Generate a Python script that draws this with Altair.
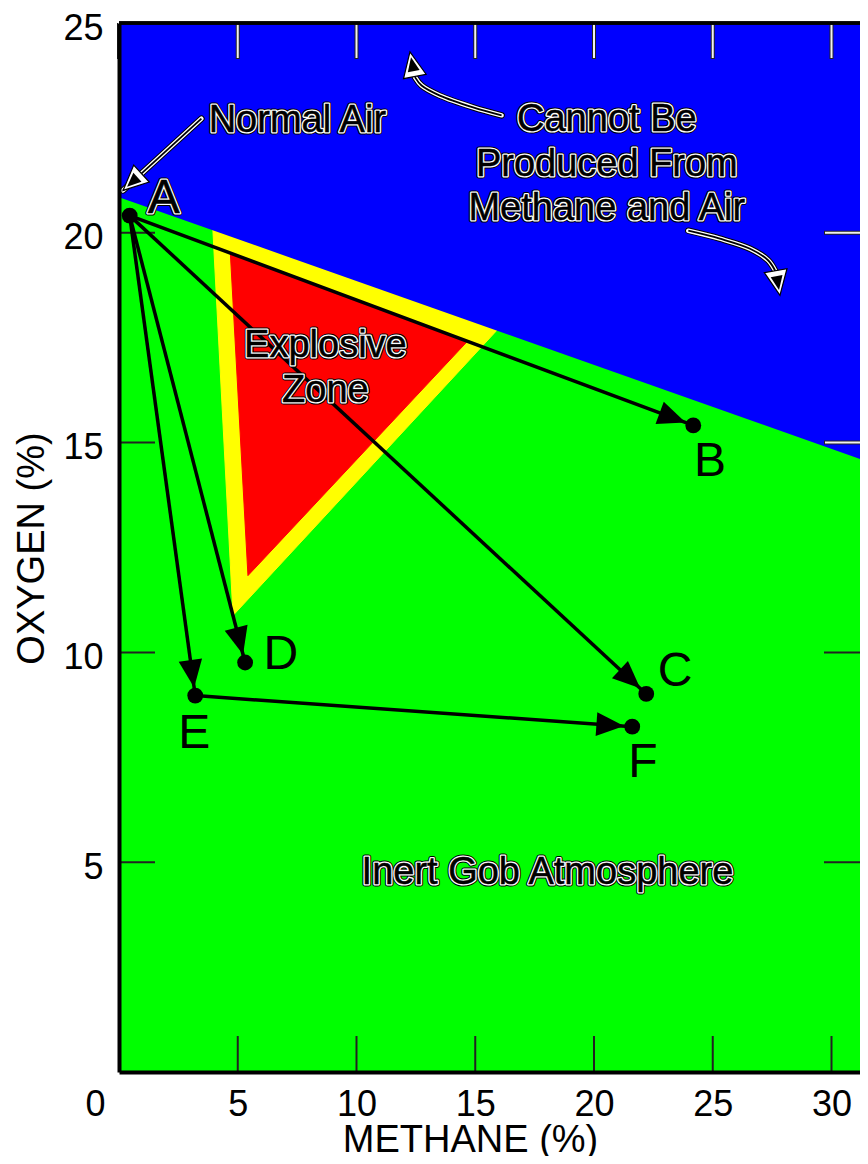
import math
import altair as alt
import pandas as pd

# ---------------- data ----------------
point_names = ["A", "B", "C", "D", "E", "F"]
point_methane = [0.45, 24.18, 22.20, 5.31, 3.21, 21.61]
point_oxygen = [20.41, 15.41, 9.01, 9.76, 8.97, 8.23]

# letter label anchors (centre x, baseline y)
letter_methane = [1.88, 24.88, 23.41, 6.81, 3.17, 22.06]
letter_oxygen = [20.46, 14.20, 9.21, 9.61, 7.73, 7.02]

arrow_from = ["A", "A", "A", "A", "E"]
arrow_to = ["B", "C", "D", "E", "F"]

# methane/air mixing line (upper limit of producible atmospheres)
boundary_methane = [0.0, 31.6]
boundary_oxygen = [20.85, 14.53]

# explosive zone polygons
yellow_methane = [3.95, 15.95, 4.80, 3.95]
yellow_oxygen = [20.10, 17.70, 10.88, 20.10]
red_methane = [4.69, 14.63, 5.43, 4.69]
red_oxygen = [19.50, 17.39, 11.83, 19.50]

# annotations
note_text = ["Normal Air", "Cannot Be", "Produced From", "Methane and Air",
             "Explosive", "Zone", "Inert Gob Atmosphere"]
note_methane = [7.51, 20.54, 20.54, 20.54, 8.69, 8.69, 18.04]
note_oxygen = [22.41, 22.43, 21.35, 20.31, 17.03, 15.96, 4.49]

# callout arrows (last point = arrow tip)
air_methane = [3.47, 0.17]
air_oxygen = [22.72, 21.01]
up_methane = [16.11, 14.91, 13.51, 12.74, 12.46, 12.25]
up_oxygen = [22.80, 22.99, 23.27, 23.51, 23.71, 24.31]
down_methane = [23.97, 25.30, 26.57, 27.34, 27.66, 27.83]
down_oxygen = [20.05, 19.86, 19.62, 19.34, 19.06, 18.51]

x_tick_values = [0, 5, 10, 15, 20, 25, 30]
y_tick_values = [5, 10, 15, 20, 25]

# ---------------- layout ----------------
W, H = 741, 1049
XMAX, YMAX = 31.2, 25.0
SX, SY = W / XMAX, H / YMAX
FONT = "Liberation Sans"
TICK = 36

xs = alt.Scale(domain=[0, XMAX], nice=False, zero=False)
ys = alt.Scale(domain=[0, YMAX], nice=False, zero=False)


def screen_angle(x0, y0, x1, y1):
    dxp = (x1 - x0) * SX
    dyp = -(y1 - y0) * SY
    return math.degrees(math.atan2(dxp, -dyp)) % 360


pts = pd.DataFrame({"name": point_names, "m": point_methane, "o": point_oxygen})
lookup = {n: (m, o) for n, m, o in zip(point_names, point_methane, point_oxygen)}
letters = pd.DataFrame({"t": point_names, "m": letter_methane, "o": letter_oxygen})

arrows = pd.DataFrame({
    "m": [lookup[a][0] for a in arrow_from],
    "o": [lookup[a][1] for a in arrow_from],
    "m2": [lookup[b][0] for b in arrow_to],
    "o2": [lookup[b][1] for b in arrow_to],
})
arrows["ang"] = [screen_angle(r.m, r.o, r.m2, r.o2) for r in arrows.itertuples()]

boundary = pd.DataFrame({"m": boundary_methane, "o": boundary_oxygen})
yellow = pd.DataFrame({"m": yellow_methane, "o": yellow_oxygen, "i": range(len(yellow_methane))})
red = pd.DataFrame({"m": red_methane, "o": red_oxygen, "i": range(len(red_methane))})
notes = pd.DataFrame({"t": note_text, "m": note_methane, "o": note_oxygen})

callout_rows, head_rows = [], []
for cid, ms, os_, full in [("air", air_methane, air_oxygen, True),
                           ("up", up_methane, up_oxygen, False),
                           ("down", down_methane, down_oxygen, False)]:
    n = len(ms) if full else len(ms) - 1
    for i in range(n):
        callout_rows.append({"id": cid, "i": i, "m": ms[i], "o": os_[i]})
    head_rows.append({"id": cid, "m": ms[-1], "o": os_[-1],
                      "ang": screen_angle(ms[-2], os_[-2], ms[-1], os_[-1])})
callouts = pd.DataFrame(callout_rows)
heads = pd.DataFrame(head_rows)

X = lambda: alt.X("m:Q", scale=xs)
Y = lambda: alt.Y("o:Q", scale=ys)

x_axis = alt.Axis(values=x_tick_values, ticks=False, grid=False, domainColor="black",
                  domainWidth=4, labelFont=FONT, labelFontSize=36, labelColor="black",
                  labelPadding=15, labelFlush=False, labelOverlap=False, labelBound=False,
                  labelOffset={"condition": {"test": "datum.value === 0", "value": -24}, "value": 0},
                  title="METHANE (%)", titleFont=FONT, titleFontSize=38,
                  titleFontWeight="normal", titleColor="black", titleX=351, titleY=79,
                  titleBaseline="alphabetic", titleAlign="center", zindex=2)
y_axis = alt.Axis(values=y_tick_values, ticks=False, grid=False, domainColor="black",
                  domainWidth=4, labelFont=FONT, labelFontSize=36, labelColor="black",
                  labelPadding=16, labelOffset=5, labelFlush=False, labelOverlap=False,
                  labelBound=False,
                  title="OXYGEN (%)", titleFont=FONT, titleFontSize=38,
                  titleFontWeight="normal", titleColor="black", titleX=-76, titleY=525,
                  titleAngle=270, titleBaseline="alphabetic", titleAlign="center", zindex=2)

# zones
yellow_layer = alt.Chart(yellow).mark_line(fill="#ffff00", stroke="#ffff00", strokeWidth=1).encode(
    x=alt.X("m:Q", scale=xs, axis=x_axis), y=alt.Y("o:Q", scale=ys, axis=y_axis),
    order=alt.Order("i:Q"))
red_layer = alt.Chart(red).mark_line(fill="#ff0000", stroke="#ff0000", strokeWidth=1).encode(
    x=X(), y=Y(), order=alt.Order("i:Q"))
blue_layer = alt.Chart(boundary).mark_area(color="#0000ff", clip=True, opacity=1).encode(
    x=X(), y=Y(), y2=alt.datum(YMAX))

# black arrows
arrow_lines = alt.Chart(arrows).mark_rule(color="black", strokeWidth=3.5).encode(
    x=X(), y=Y(), x2="m2:Q", y2="o2:Q")
arrow_heads = alt.Chart(arrows).mark_point(
    shape="M0,0.8L1.15,3.5L-1.15,3.5Z", size=420, filled=True, color="black",
    opacity=1, strokeWidth=0).encode(
    x=alt.X("m2:Q", scale=xs), y=alt.Y("o2:Q", scale=ys),
    angle=alt.Angle("ang:Q", scale=None))
dots = alt.Chart(pts).mark_circle(color="black", size=250, opacity=1).encode(x=X(), y=Y())

# white callout arrows
cl_base = alt.Chart(callouts).encode(x=X(), y=Y(), detail="id:N", order=alt.Order("i:Q"))
cl1 = cl_base.mark_line(color="black", strokeWidth=6.5, interpolate="catmull-rom", strokeCap="round")
cl2 = cl_base.mark_line(color="white", strokeWidth=4.5, interpolate="catmull-rom", strokeCap="round")
cl3 = cl_base.mark_line(color="black", strokeWidth=1.8, interpolate="catmull-rom")
hd_base = alt.Chart(heads).encode(x=X(), y=Y(), angle=alt.Angle("ang:Q", scale=None))
hd1 = hd_base.mark_point(shape="M0,0L1.15,2.5L-1.15,2.5Z", size=400, filled=True,
                         fill="white", stroke="black", strokeWidth=1.2, opacity=1)
hd2 = hd_base.mark_point(shape="M0,0.55L0.6,1.95L-0.6,1.95Z", size=400, filled=True,
                         color="black", strokeWidth=0, opacity=1)


def outlined(df, size, sel=None):
    base = alt.Chart(df).encode(x=X(), y=Y(), text="t:N")
    if sel is not None:
        base = base.transform_filter(sel)
    kw = dict(font=FONT, fontSize=size, align="center", baseline="alphabetic")
    return [
        base.mark_text(stroke="black", strokeWidth=5.2, fill="black", strokeJoin="round", **kw),
        base.mark_text(stroke="white", strokeWidth=3.2, fill="white", strokeJoin="round", **kw),
        base.mark_text(fill="black", stroke="black", strokeWidth=0.5, **kw),
    ]


note_layers = outlined(notes, 38)
a_layers = outlined(letters, 48, "datum.t === 'A'")
other_letters = alt.Chart(letters).transform_filter("datum.t !== 'A'").mark_text(
    font=FONT, fontSize=48, align="center", baseline="alphabetic", color="black").encode(
    x=X(), y=Y(), text="t:N")

# inward ticks
light_top = pd.DataFrame({"v": x_tick_values})
dark_bottom = pd.DataFrame({"v": [v for v in x_tick_values if v > 0]})
left_ticks = pd.DataFrame({"v": [v for v in y_tick_values if v < 25]})
right_dark = pd.DataFrame({"v": [v for v in y_tick_values if v <= 10]})
right_light = pd.DataFrame({"v": [v for v in y_tick_values if 10 < v < 25]})

tick_layers = [
    alt.Chart(light_top).mark_rule(color="#222222", strokeWidth=4).encode(
        x=alt.X("v:Q", scale=xs), y=alt.value(0), y2=alt.value(TICK)),
    alt.Chart(light_top).mark_rule(color="#f0f0f0", strokeWidth=2).encode(
        x=alt.X("v:Q", scale=xs), y=alt.value(0), y2=alt.value(TICK - 1)),
    alt.Chart(dark_bottom).mark_rule(color="#222222", strokeWidth=2).encode(
        x=alt.X("v:Q", scale=xs), y=alt.value(H - TICK), y2=alt.value(H)),
    alt.Chart(left_ticks).mark_rule(color="#222222", strokeWidth=2).encode(
        y=alt.Y("v:Q", scale=ys), x=alt.value(0), x2=alt.value(TICK)),
    alt.Chart(right_dark).mark_rule(color="#222222", strokeWidth=2).encode(
        y=alt.Y("v:Q", scale=ys), x=alt.value(W - TICK), x2=alt.value(W)),
    alt.Chart(right_light).mark_rule(color="#222222", strokeWidth=4).encode(
        y=alt.Y("v:Q", scale=ys), x=alt.value(W - TICK), x2=alt.value(W)),
    alt.Chart(right_light).mark_rule(color="#f0f0f0", strokeWidth=2).encode(
        y=alt.Y("v:Q", scale=ys), x=alt.value(W - TICK + 1), x2=alt.value(W)),
]

top_border = alt.Chart(boundary).mark_rule(color="black", strokeWidth=3.5).encode(
    x=alt.datum(0, scale=xs), x2=alt.datum(XMAX), y=alt.datum(YMAX, scale=ys))

chart = alt.layer(
    yellow_layer, red_layer, blue_layer,
    *tick_layers,
    arrow_lines, arrow_heads, dots,
    cl1, cl2, cl3, hd1, hd2,
    *note_layers, *a_layers, other_letters,
    top_border,
).properties(
    width=W, height=H,
    padding={"left": 111, "top": 15, "right": 0, "bottom": 84},
    autosize=alt.AutoSizeParams(type="none"),
).configure_view(fill="#00ff00", stroke=None)

chart.save("out.html", embed_options={"renderer": "svg", "actions": False})
